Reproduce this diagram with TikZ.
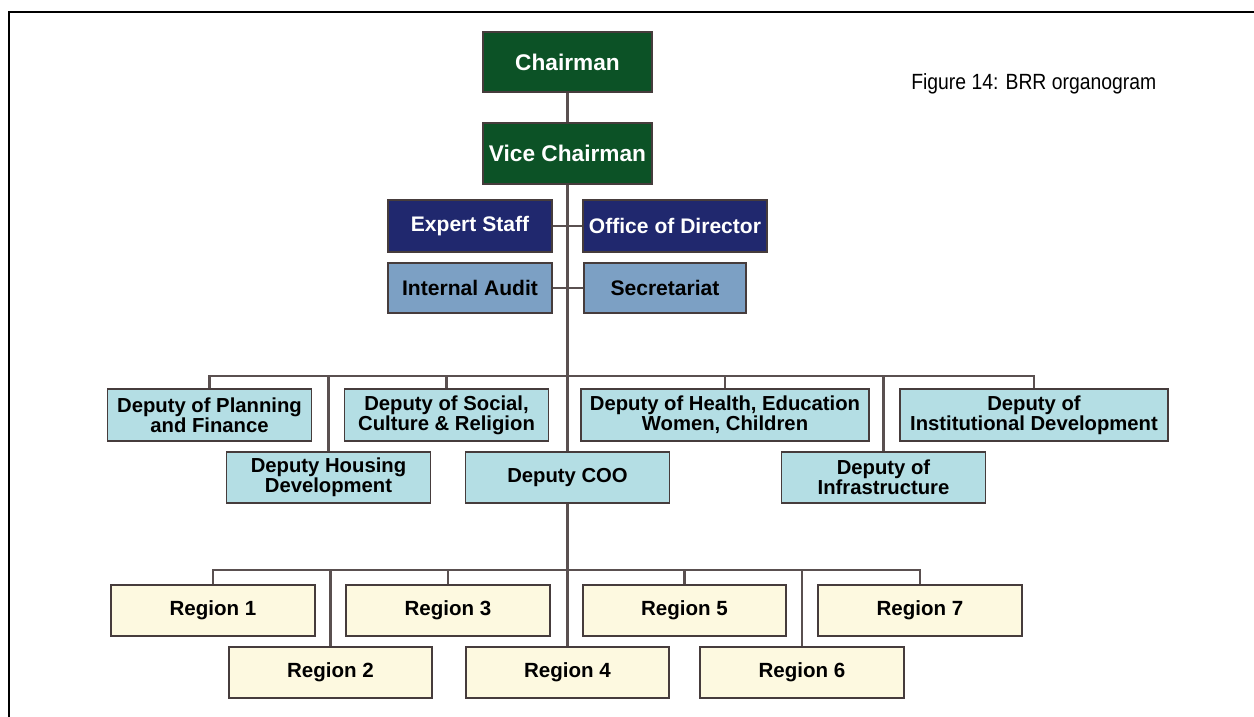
\documentclass[tikz,border=0pt]{standalone}
\usepackage{fontspec}
\setmainfont{Liberation Sans}
\newfontfamily\captionfont[FakeStretch=0.88]{Liberation Sans}

\definecolor{chairgreen}{RGB}{12,82,38}
\definecolor{staffnavy}{RGB}{32,40,110}
\definecolor{auditblue}{RGB}{124,160,196}
\definecolor{deputycyan}{RGB}{180,222,228}
\definecolor{regioncream}{RGB}{253,249,224}
\definecolor{boxedge}{RGB}{70,60,60}
\definecolor{linkgray}{RGB}{90,80,80}

\begin{document}
\begin{tikzpicture}[x=0.75pt,y=0.75pt,yscale=-1,xscale=1,
  orgbox/.style={draw=boxedge,line width=1.4pt,inner sep=1pt,align=center,
    font=\bfseries\fontsize{15.2}{13.8}\selectfont,minimum height=38.5pt},
  chairbox/.style={orgbox,fill=chairgreen,text=white,minimum width=126.75pt,
    minimum height=45.5pt,font=\bfseries\fontsize{17}{18}\selectfont},
  staffbox/.style={orgbox,fill=staffnavy,text=white,minimum height=39pt,
    font=\bfseries\fontsize{15.8}{17}\selectfont},
  auditbox/.style={orgbox,fill=auditblue,minimum height=37.5pt,
    font=\bfseries\fontsize{15.8}{17}\selectfont},
  deputybox/.style={orgbox,fill=deputycyan,minimum width=153pt},
  regionbox/.style={orgbox,fill=regioncream,minimum width=152.5pt,
    font=\bfseries\fontsize{15.4}{17}\selectfont},
  link/.style={draw=linkgray,line width=1.6pt}]
\useasboundingbox (0,0) rectangle (1254,717);

%Frame
\draw [line width=1.4pt] (9,717) -- (9,12) -- (1254,12) ;

% Caption
\node [anchor=west,inner sep=0pt,font=\captionfont\fontsize{16.5}{18}\selectfont] (caption) at (911,84) {Figure 14: BRR organogram};

% Top
\node [chairbox] (chair) at (567.5,62) {Chairman};
\node [chairbox] (vice) at (567.5,153.5) {Vice Chairman};

% Staff
\node [staffbox,minimum width=123pt] (expert) at (470,226) {Expert Staff};
\node [staffbox,minimum width=138pt] (office) at (675,226) {Office of Director};
\node [auditbox,minimum width=123pt] (audit) at (470,288) {Internal Audit};
\node [auditbox,minimum width=121.5pt] (secretariat) at (665,288) {Secretariat};

% Deputies
\node [deputybox] (planning) at (209.5,415) {Deputy of Planning\\and Finance};
\node [deputybox] (social) at (446.5,415) {Deputy of Social,\\Culture \& Religion};
\node [deputybox,minimum width=216pt] (health) at (725,415) {Deputy of Health, Education\\Women, Children};
\node [deputybox,minimum width=201pt] (institutional) at (1034,415) {Deputy of\\Institutional Development};
\node [deputybox] (housing) at (328.5,477.5) {Deputy Housing\\Development};
\node [deputybox] (coo) at (567.5,477.5) {Deputy COO};
\node [deputybox] (infrastructure) at (883.5,477.5) {Deputy of\\Infrastructure};

% Regions
\node [regionbox] (region1) at (213,610.5) {Region 1};
\node [regionbox] (region2) at (330.5,672.5) {Region 2};
\node [regionbox] (region3) at (448,610.5) {Region 3};
\node [regionbox] (region4) at (567.5,672.5) {Region 4};
\node [regionbox] (region5) at (684.5,610.5) {Region 5};
\node [regionbox] (region6) at (802,672.5) {Region 6};
\node [regionbox] (region7) at (920,610.5) {Region 7};

% Connectors
\coordinate (deputybus) at (567.5,376);
\coordinate (regionbus) at (567.5,570);
\draw [link] (chair) -- (vice) ;
\draw [link] (vice) -- (coo) ;
\draw [link] (expert) -- (office) ;
\draw [link] (audit) -- (secretariat) ;
\draw [link] (planning) |- (deputybus) ;
\draw [link] (housing) |- (deputybus) ;
\draw [link] (social) |- (deputybus) ;
\draw [link] (health) |- (deputybus) ;
\draw [link] (infrastructure) |- (deputybus) ;
\draw [link] (institutional) |- (deputybus) ;
\draw [link] (coo) -- (region4) ;
\draw [link] (region1) |- (regionbus) ;
\draw [link] (region2) |- (regionbus) ;
\draw [link] (region3) |- (regionbus) ;
\draw [link] (region5) |- (regionbus) ;
\draw [link] (region6) |- (regionbus) ;
\draw [link] (region7) |- (regionbus) ;

\end{tikzpicture}
\end{document}
